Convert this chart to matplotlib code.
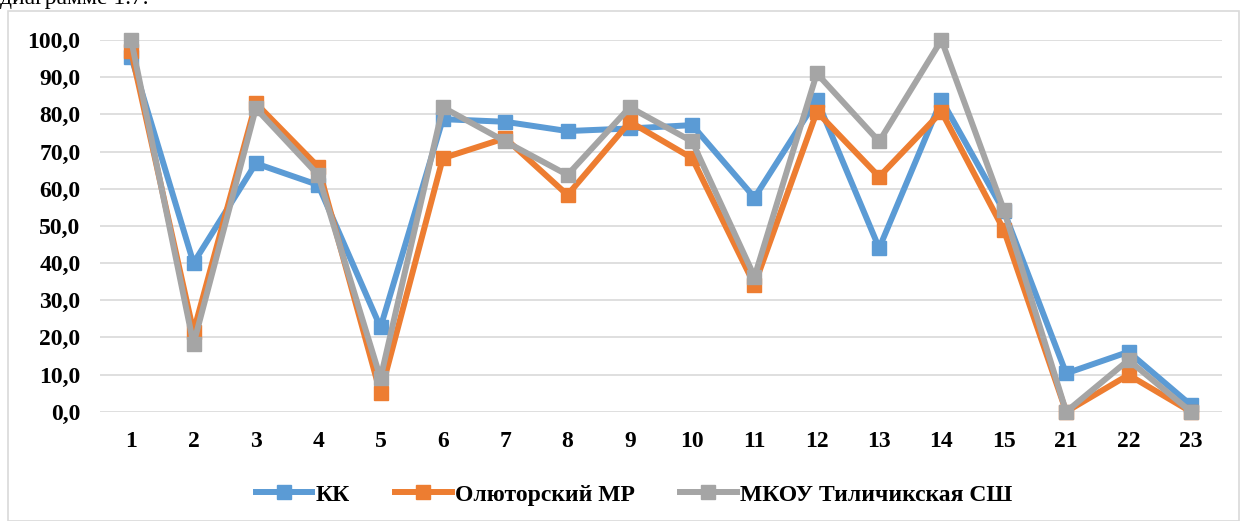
import matplotlib
matplotlib.use("Agg")
import matplotlib.pyplot as plt
from matplotlib.patches import Rectangle

categories = ["1", "2", "3", "4", "5", "6", "7", "8", "9", "10", "11", "12", "13", "14", "15", "21", "22", "23"]
kk = [95.5, 40.0, 66.8, 61.0, 22.7, 78.7, 78.0, 75.5, 76.2, 77.1, 57.6, 83.9, 44.0, 83.9, 54.0, 10.3, 16.1, 1.8]
olyut = [97.0, 21.5, 83.0, 65.9, 4.9, 68.2, 73.6, 58.3, 78.0, 68.2, 34.1, 80.7, 63.2, 80.7, 48.9, 0.0, 9.9, 0.0]
school = [100.0, 18.2, 81.6, 63.7, 9.0, 81.9, 72.7, 63.7, 81.9, 72.7, 36.3, 91.0, 72.7, 100.0, 54.3, 0.0, 13.9, 0.0]
series_names = ["КК", "Олюторский МР", "МКОУ Тиличикская СШ"]
yticks = [0, 10, 20, 30, 40, 50, 60, 70, 80, 90, 100]

colors = ["#5B9BD5", "#ED7D31", "#A5A5A5"]

W, H = 1241, 521
fig = plt.figure(figsize=(W / 100, H / 100), dpi=100)
font = "Liberation Serif"

# chart border
fig.patches.append(Rectangle((8 / W, 0), (1239 - 8) / W, 1 - 11 / H, transform=fig.transFigure,
                             fill=False, edgecolor="#D9D9D9", linewidth=1.2))
# clipped body text above chart
fig.text(0.0, 1 - 4 / H, "диаграмме 1.7.", fontfamily=font, fontsize=17, va="baseline", ha="left")

ax = fig.add_axes([100 / W, 1 - 411.7 / H, (1222 - 100) / W, (411.7 - 40) / H])
x = list(range(len(categories)))
for vals, c, name in zip([kk, olyut, school], colors, series_names):
    ax.plot(x, vals, color=c, linewidth=4.3, marker="s", markersize=10.5,
            label=name, clip_on=False, zorder=3)

ax.set_xlim(-0.5, len(categories) - 0.5)
ax.set_ylim(0, 100)
ax.set_yticks(yticks)
ax.set_yticklabels([f"{v:.1f}".replace(".", ",") for v in yticks])
ax.set_xticks(x)
ax.set_xticklabels(categories)
ax.grid(axis="y", color="#D9D9D9", linewidth=1.2)
ax.set_axisbelow(True)
for s in ax.spines.values():
    s.set_visible(False)
ax.tick_params(length=0)
ax.tick_params(axis="x", pad=14)
ax.tick_params(axis="y", pad=14)
for lab in ax.get_xticklabels() + ax.get_yticklabels():
    lab.set_fontfamily(font)
    lab.set_fontweight("bold")
    lab.set_fontsize(17)

leg = fig.legend(loc="center", bbox_to_anchor=(634 / W, 1 - 495 / H), ncol=3, frameon=False,
                 prop={"family": font, "weight": "bold", "size": 17},
                 handlelength=2.4, handletextpad=0.15, columnspacing=1.9)

fig.savefig("out.png", dpi=100)
